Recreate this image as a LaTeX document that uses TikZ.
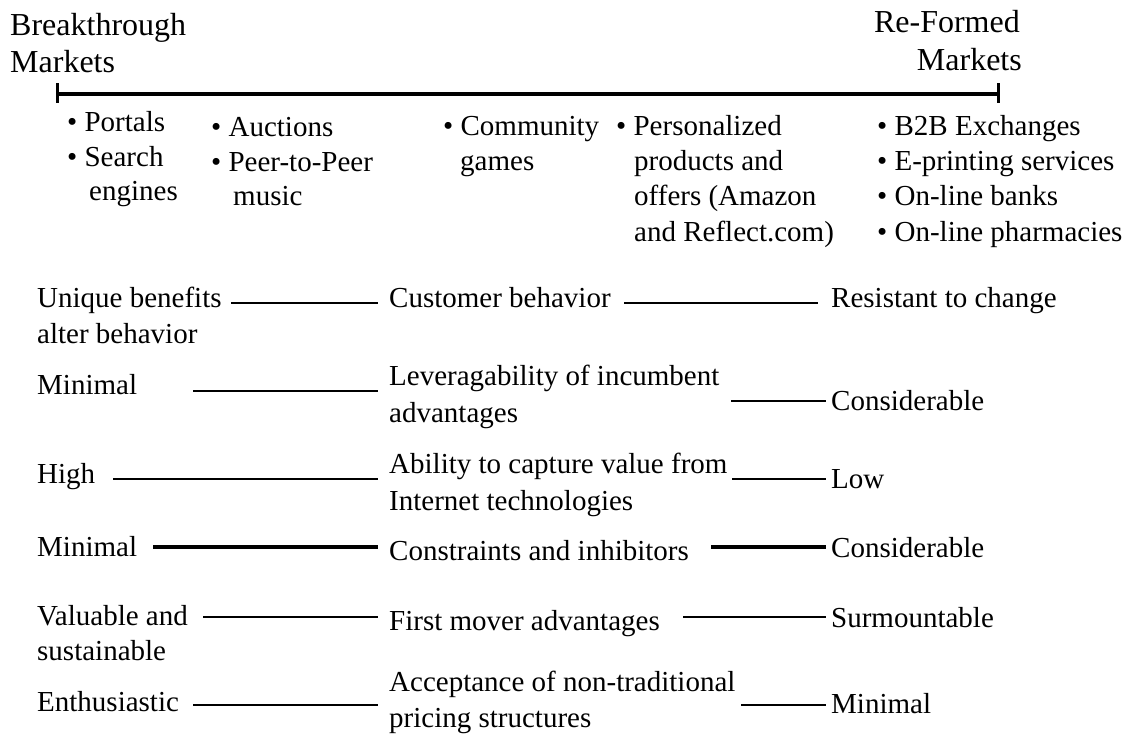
\documentclass[tikz,border=0pt]{standalone}
\usepackage{fontspec}
\setmainfont{Liberation Serif}
\begin{document}
\begin{tikzpicture}[x=1pt,y=-1pt,
  txt/.style={inner sep=0pt, anchor=base west, font=\fontsize{29}{35}\selectfont},
  ttl/.style={inner sep=0pt, font=\fontsize{32}{37}\selectfont},
  link/.style={line width=2pt},
  boldlink/.style={line width=4pt},
  axisline/.style={line width=4.5pt},
  tickline/.style={line width=3pt}]
\useasboundingbox (0,0) rectangle (1127,736);

% titles
\node[ttl, anchor=base west] (bt1) at (10,35) {Breakthrough};
\node[ttl, anchor=base west] (bt2) at (10,72) {Markets};
\node[ttl, anchor=base east] (rf1) at (1020,32) {Re-Formed};
\node[ttl, anchor=base east] (rf2) at (1022,70) {Markets};

% timeline
\coordinate (tl) at (57,94);
\coordinate (tr) at (998,94);
\draw[axisline] (tl) -- (tr);
\draw[tickline] (tl) ++(0,-11) -- ++(0,20);
\draw[tickline] (tr) ++(0,-11) -- ++(0,20);

% examples
\node[txt] (p1) at (67,131) {\textbullet\ Portals};
\node[txt] (p2) at (67,166) {\textbullet\ Search};
\node[txt] (p3) at (89,200) {engines};

\node[txt] (a1) at (211,136) {\textbullet\ Auctions};
\node[txt] (a2) at (211,171) {\textbullet\ Peer-to-Peer};
\node[txt] (a3) at (233,205) {music};

\node[txt] (c1) at (443,135) {\textbullet\ Community};
\node[txt] (c2) at (460,170) {games};

\node[txt] (s1) at (616,135) {\textbullet\ Personalized};
\node[txt] (s2) at (634,170) {products and};
\node[txt] (s3) at (634,205) {offers (Amazon};
\node[txt] (s4) at (634,241) {and Reflect.com)};

\node[txt] (b1) at (877,135) {\textbullet\ B2B Exchanges};
\node[txt] (b2) at (877,170) {\textbullet\ E-printing services};
\node[txt] (b3) at (877,205) {\textbullet\ On-line banks};
\node[txt] (b4) at (877,241) {\textbullet\ On-line pharmacies};

% row 1
\node[txt] (l1a) at (37,307) {Unique benefits};
\node[txt] (l1b) at (37,343) {alter behavior};
\node[txt] (m1) at (389,307) {Customer behavior};
\node[txt] (r1) at (831,307) {Resistant to change};
\coordinate (u1) at (231,303); \coordinate (v1) at (378,303);
\coordinate (w1) at (624,303); \coordinate (z1) at (818,303);
\draw[link] (u1) -- (v1);
\draw[link] (w1) -- (z1);

% row 2
\node[txt] (l2) at (37,394) {Minimal};
\node[txt] (m2a) at (389,385) {Leveragability of incumbent};
\node[txt] (m2b) at (389,422) {advantages};
\node[txt] (r2) at (831,410) {Considerable};
\coordinate (u2) at (193,391); \coordinate (v2) at (378,391);
\coordinate (w2) at (731,401); \coordinate (z2) at (826,401);
\draw[link] (u2) -- (v2);
\draw[link] (w2) -- (z2);

% row 3
\node[txt] (l3) at (37,483) {High};
\node[txt] (m3a) at (389,473) {Ability to capture value from};
\node[txt] (m3b) at (389,510) {Internet technologies};
\node[txt] (r3) at (831,488) {Low};
\coordinate (u3) at (113,479); \coordinate (v3) at (378,479);
\coordinate (w3) at (732,479); \coordinate (z3) at (826,479);
\draw[link] (u3) -- (v3);
\draw[link] (w3) -- (z3);

% row 4
\node[txt] (l4) at (37,556) {Minimal};
\node[txt] (m4) at (389,560) {Constraints and inhibitors};
\node[txt] (r4) at (831,557) {Considerable};
\coordinate (u4) at (153,547); \coordinate (v4) at (378,547);
\coordinate (w4) at (711,547); \coordinate (z4) at (826,547);
\draw[boldlink] (u4) -- (v4);
\draw[boldlink] (w4) -- (z4);

% row 5
\node[txt] (l5a) at (37,625) {Valuable and};
\node[txt] (l5b) at (37,660) {sustainable};
\node[txt] (m5) at (389,630) {First mover advantages};
\node[txt] (r5) at (831,627) {Surmountable};
\coordinate (u5) at (203,617); \coordinate (v5) at (378,617);
\coordinate (w5) at (683,617); \coordinate (z5) at (826,617);
\draw[link] (u5) -- (v5);
\draw[link] (w5) -- (z5);

% row 6
\node[txt] (l6) at (37,711) {Enthusiastic};
\node[txt] (m6a) at (389,691) {Acceptance of non-traditional};
\node[txt] (m6b) at (389,727) {pricing structures};
\node[txt] (r6) at (831,713) {Minimal};
\coordinate (u6) at (193,705); \coordinate (v6) at (378,705);
\coordinate (w6) at (741,705); \coordinate (z6) at (826,705);
\draw[link] (u6) -- (v6);
\draw[link] (w6) -- (z6);
\end{tikzpicture}
\end{document}
